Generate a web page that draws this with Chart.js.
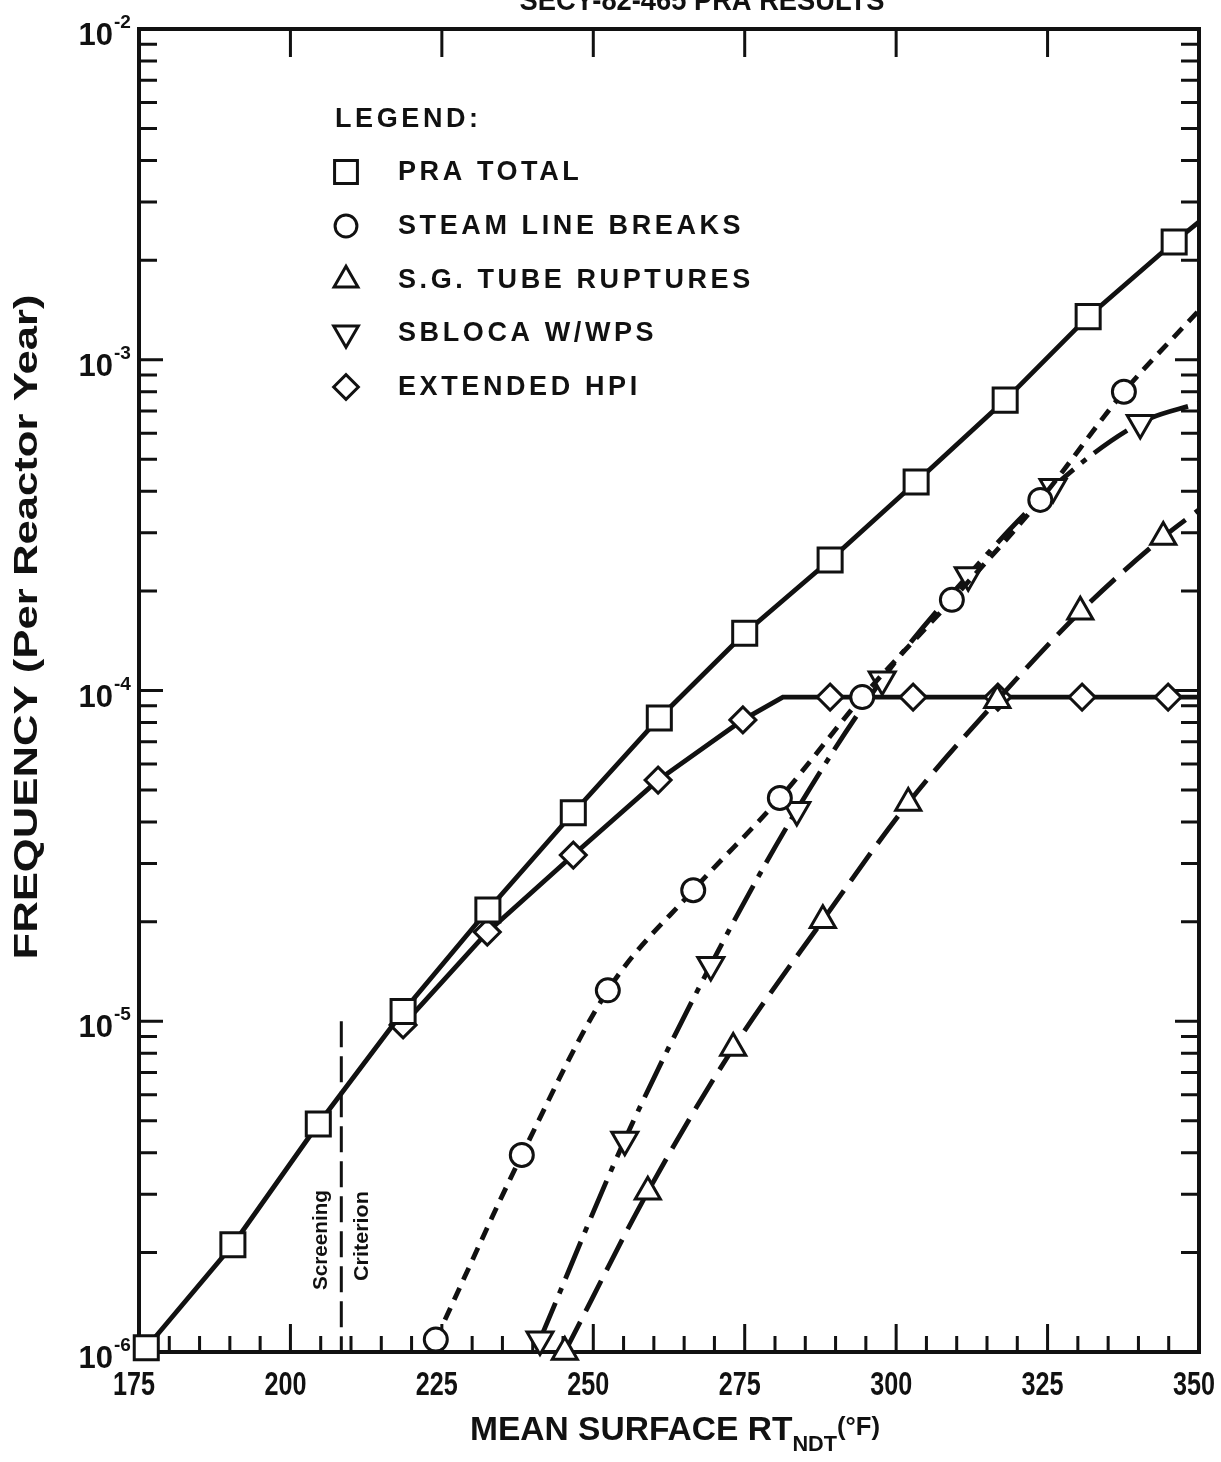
<!DOCTYPE html>
<html>
<head>
<meta charset="utf-8">
<script src="https://cdn.jsdelivr.net/npm/chart.js@4.4.1/dist/chart.umd.min.js"></script>
<style>
  html, body { margin: 0; padding: 0; background: #fff; }
  #wrap { width: 1221px; height: 1462px; }
</style>
</head>
<body>
<div id="wrap"><canvas id="myChart" width="1221" height="1462"></canvas></div>
<script>
// values (x = mean surface RT_NDT in °F, y = frequency per reactor year)
const praTotalX = [176.2, 190.5, 204.6, 218.6, 232.6, 246.7, 260.9, 275.0, 289.1, 303.3, 318.0, 331.7, 345.9, 350];
const praTotalY = [1.03e-6, 2.11e-6, 4.89e-6, 1.07e-5, 2.17e-5, 4.27e-5, 8.26e-5, 1.49e-4, 2.48e-4, 4.27e-4, 7.55e-4, 1.35e-3, 2.27e-3, 2.61e-3];

const steamX = [224.0, 238.2, 252.4, 266.5, 280.8, 294.4, 309.2, 323.8, 337.6, 350];
const steamY = [1.09e-6, 3.94e-6, 1.24e-5, 2.49e-5, 4.73e-5, 9.55e-5, 1.88e-4, 3.77e-4, 8.0e-4, 1.41e-3];

const tubeX = [245.3, 259.0, 273.1, 287.9, 302.0, 316.7, 330.4, 344.1, 350];
const tubeY = [1.0e-6, 3.05e-6, 8.3e-6, 2.02e-5, 4.57e-5, 9.35e-5, 1.73e-4, 2.91e-4, 3.52e-4];

const sblocaX = [241.2, 255.2, 269.4, 283.6, 297.7, 311.9, 325.9, 340.3, 350];
const sblocaY = [1.09e-6, 4.38e-6, 1.48e-5, 4.35e-5, 1.08e-4, 2.23e-4, 4.12e-4, 6.44e-4, 7.40e-4];

const hpiX = [218.6, 232.5, 246.7, 260.7, 274.7, 281.3, 289.1, 302.8, 316.8, 330.7, 344.9, 350];
const hpiY = [9.75e-6, 1.86e-5, 3.18e-5, 5.36e-5, 8.15e-5, 9.55e-5, 9.55e-5, 9.55e-5, 9.55e-5, 9.55e-5, 9.55e-5, 9.55e-5];
const hpiBend = 281.3; // knee of the curve, no symbol there

const screeningX = 208.4;
const screeningTop = 1e-5;

const xTicks = [175, 200, 225, 250, 275, 300, 325, 350];
const yDecades = [-6, -5, -4, -3, -2];

const ink = '#111';
const face = "'Liberation Sans', Arial, sans-serif";

function series(xs, ys) {
    return xs.map((x, i) => ({ x: x, y: ys[i] }));
}

// no symbol on the points where a curve leaves the frame
function marker(r, skip) {
    return function(c) {
        const p = c.raw;
        if (!p || p.x >= 350 || p.x === skip) return 0;
        return r;
    };
}

function lineSet(label, xs, ys, style, r, extra) {
    return Object.assign({
        label: label,
        data: series(xs, ys),
        borderColor: ink,
        borderWidth: 4.8,
        pointStyle: style,
        pointRadius: marker(r),
        pointBackgroundColor: '#fff',
        pointBorderColor: ink,
        pointBorderWidth: 3,
        markerSize: r,
        tension: 0,
        clip: false
    }, extra || {});
}

// text squeezed/stretched to a given width
function fitText(ctx, text, cx, cy, width, font, angle) {
    ctx.save();
    ctx.font = font;
    const w = ctx.measureText(text).width;
    ctx.translate(cx, cy);
    ctx.rotate(angle || 0);
    ctx.scale(width / w, 1);
    ctx.textAlign = 'center';
    ctx.textBaseline = 'middle';
    ctx.fillText(text, 0, 0);
    ctx.restore();
}

const frame = {
    id: 'frame',
    beforeDatasetsDraw(chart) {
        const { ctx, chartArea: a, scales: { x, y } } = chart;
        ctx.save();
        ctx.strokeStyle = ink;
        ctx.lineWidth = 4;
        ctx.strokeRect(a.left, a.top, a.right - a.left, a.bottom - a.top);

        ctx.lineWidth = 3;
        ctx.beginPath();
        // inward ticks, left and right
        for (let e = -6; e <= -2; e++) {
            for (let m = 1; m <= 9; m++) {
                if (e === -2 && m > 1) break;
                const py = y.getPixelForValue(m * Math.pow(10, e));
                const len = m === 1 ? 24 : 18;
                ctx.moveTo(a.left, py); ctx.lineTo(a.left + len, py);
                ctx.moveTo(a.right, py); ctx.lineTo(a.right - len, py);
            }
        }
        // top: majors only
        for (let v = 200; v < 350; v += 25) {
            const px = x.getPixelForValue(v);
            ctx.moveTo(px, a.top); ctx.lineTo(px, a.top + 28);
        }
        // bottom: every 5 degrees
        for (let v = 180; v < 350; v += 5) {
            const px = x.getPixelForValue(v);
            ctx.moveTo(px, a.bottom); ctx.lineTo(px, a.bottom - (v % 25 === 0 ? 28 : 16));
        }
        ctx.stroke();
        ctx.restore();
    },
    afterDraw(chart) {
        const { ctx, chartArea: a, scales: { x, y } } = chart;
        ctx.save();
        ctx.fillStyle = ink;

        // title, cut at the top edge of the scan
        fitText(ctx, 'SECY-82-465 PRA RESULTS', 702, 2, 365, 'bold 30px ' + face);

        // x tick labels
        xTicks.forEach(v => {
            fitText(ctx, String(v), x.getPixelForValue(v) - 5, a.bottom + 34, 42, 'bold 33px ' + face);
        });

        // y tick labels 10^n
        yDecades.forEach(e => {
            const py = y.getPixelForValue(Math.pow(10, e));
            ctx.textAlign = 'right';
            ctx.textBaseline = 'alphabetic';
            ctx.font = 'bold 31px ' + face;
            ctx.fillText('10', 113, py + 16);
            ctx.textAlign = 'left';
            ctx.font = 'bold 19px ' + face;
            ctx.fillText(String(e), 114, py - 1);
        });

        // x axis title with subscript
        const parts = [
            { t: 'MEAN SURFACE RT', f: 'bold 34px ', dy: 0 },
            { t: 'NDT', f: 'bold 22px ', dy: 11 },
            { t: '(°F)', f: 'bold 26px ', dy: -5 }
        ];
        let total = 0;
        parts.forEach(p => { ctx.font = p.f + face; p.w = ctx.measureText(p.t).width; total += p.w; });
        const sx = 410 / total;
        ctx.save();
        ctx.translate(470, 1440);
        ctx.scale(sx, 1);
        ctx.textAlign = 'left';
        ctx.textBaseline = 'alphabetic';
        let cx = 0;
        parts.forEach(p => { ctx.font = p.f + face; ctx.fillText(p.t, cx, p.dy); cx += p.w; });
        ctx.restore();

        // y axis title
        fitText(ctx, 'FREQUENCY (Per Reactor Year)', 28, 627, 665, 'bold 34px ' + face, -Math.PI / 2);

        // screening criterion label
        const sxp = x.getPixelForValue(screeningX);
        fitText(ctx, 'Screening', sxp - 20, 1240, 100, 'bold 21px ' + face, -Math.PI / 2);
        fitText(ctx, 'Criterion', sxp + 21, 1236, 90, 'bold 21px ' + face, -Math.PI / 2);

        // legend inside the plot
        ctx.textAlign = 'left';
        ctx.textBaseline = 'middle';
        ctx.font = 'bold 27px ' + face;
        ctx.letterSpacing = '3.6px';
        ctx.fillText('LEGEND:', 335, 120);
        const rows = [172, 226, 280, 333, 387];
        chart.data.datasets.slice(0, 5).forEach((ds, i) => {
            ctx.save();
            ctx.fillStyle = '#fff';
            ctx.strokeStyle = ink;
            ctx.lineWidth = 3;
            Chart.helpers.drawPoint(ctx, {
                pointStyle: ds.pointStyle,
                rotation: ds.pointRotation || 0,
                radius: ds.markerSize * 0.95,
                borderWidth: 3
            }, 346, rows[i]);
            ctx.restore();
            ctx.fillText(ds.label, 398, rows[i] + 1);
        });
        ctx.restore();
    }
};

const ctx = document.getElementById('myChart').getContext('2d');
const myChart = new Chart(ctx, {
    type: 'line',
    data: {
        datasets: [
            lineSet('PRA TOTAL', praTotalX, praTotalY, 'rect', 17),
            lineSet('STEAM LINE BREAKS', steamX, steamY, 'circle', 11.5,
                { borderDash: [13, 9], cubicInterpolationMode: 'monotone' }),
            lineSet('S.G. TUBE RUPTURES', tubeX, tubeY, 'triangle', 14.5,
                { borderDash: [34, 12], cubicInterpolationMode: 'monotone' }),
            lineSet('SBLOCA W/WPS', sblocaX, sblocaY, 'triangle', 15,
                { borderDash: [40, 10, 6, 10], cubicInterpolationMode: 'monotone', pointRotation: 180 }),
            lineSet('EXTENDED HPI', hpiX, hpiY, 'rectRot', 13, { pointRadius: marker(13, hpiBend) }),
            {
                label: 'Screening Criterion',
                data: [{ x: screeningX, y: screeningTop }, { x: screeningX, y: 1e-6 }],
                borderColor: ink,
                borderWidth: 3,
                borderDash: [26, 9],
                pointRadius: 0,
                clip: false
            }
        ]
    },
    options: {
        responsive: false,
        animation: false,
        events: [],
        layout: { padding: { left: 139, right: 22, top: 29, bottom: 110 } },
        scales: {
            x: { type: 'linear', min: 175, max: 350, display: false },
            y: { type: 'logarithmic', min: 1e-6, max: 1e-2, display: false }
        },
        plugins: {
            legend: { display: false },
            tooltip: { enabled: false }
        }
    },
    plugins: [frame]
});
</script>
</body>
</html>
